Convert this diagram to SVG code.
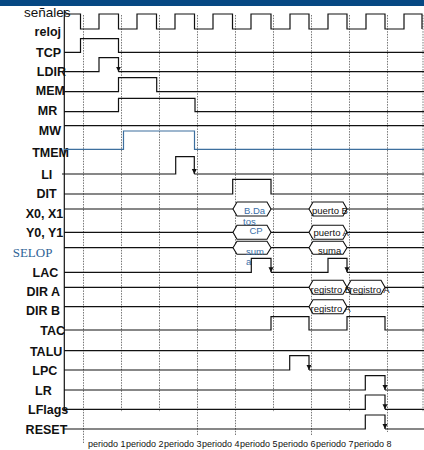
<svg xmlns="http://www.w3.org/2000/svg" width="424" height="450" viewBox="0 0 424 450">
<defs>
<marker id="arr" viewBox="0 0 6 6" refX="6" refY="3" markerWidth="5" markerHeight="6" markerUnits="userSpaceOnUse" orient="auto"><path d="M0,0 L6,3 L0,6 z" fill="#111"/></marker>
<style>
.lbl{font-family:"Liberation Sans",Arial,sans-serif;font-weight:bold;font-size:12.5px;fill:#111;text-anchor:end}
.w{fill:none;stroke:#111;stroke-width:1.2}
.wa{fill:none;stroke:#111;stroke-width:1.2;marker-end:url(#arr)}
.tm{fill:none;stroke:#3d6f9e;stroke-width:1.2}
.grid{stroke:#555;stroke-width:0.8;stroke-dasharray:1.5,1.2}
.hex{fill:#fff;stroke:#111;stroke-width:1.1}
.ht{font-family:"Liberation Sans",Arial,sans-serif;font-size:9.5px;fill:#111}
.hb{font-family:"Liberation Sans",Arial,sans-serif;font-size:9.5px;fill:#3a6fa8}
.per{font-family:"Liberation Sans",Arial,sans-serif;font-size:9px;fill:#111}
</style>
</defs>
<rect x="0" y="0" width="424" height="6" fill="#064883"/>
<g id="grid">
<line class="grid" x1="83.5" y1="15" x2="83.5" y2="443"/>
<line class="grid" x1="121.5" y1="15" x2="121.5" y2="412"/>
<line class="grid" x1="159.5" y1="15" x2="159.5" y2="412"/>
<line class="grid" x1="197.5" y1="15" x2="197.5" y2="435"/>
<line class="grid" x1="235.5" y1="15" x2="235.5" y2="435"/>
<line class="grid" x1="273.5" y1="15" x2="273.5" y2="412"/>
<line class="grid" x1="311.5" y1="15" x2="311.5" y2="435"/>
<line class="grid" x1="349.5" y1="15" x2="349.5" y2="412"/>
<line class="grid" x1="387.5" y1="15" x2="387.5" y2="432"/>
<line class="grid" x1="423" y1="15" x2="423" y2="412"/>
</g>
<g id="axis"><line x1="64.3" y1="10" x2="64.3" y2="410" stroke="#111" stroke-width="1.2"/></g>
<text x="24" y="16.5" font-family="Liberation Sans, Arial, sans-serif" font-size="13.5" fill="#111">señales</text>
<g id="reloj"><text class="lbl" x="61" y="36">reloj</text>
<path class="w" d="M64,14 H80.5 V29 H99 V14 H118.5 V29 H137 V14 H156.5 V29 H175 V14 H194.5 V29 H213 V14 H232.5 V29 H251 V14 H271 V29 H290 V14 H309 V29 H328 V14 H347 V29 H366 V14 H385 V29 H404 V14 H422 V29"/></g>
<g id="TCP"><text class="lbl" x="61" y="56.5">TCP</text>
<path class="w" d="M64,52.3 H80.5 V38.7 H118.5 V52.3 H424"/></g>
<g id="LDIR"><text class="lbl" x="66" y="75.5">LDIR</text>
<path class="wa" d="M64,71.7 H99 V57.7 H118.5 V71.7"/><path class="w" d="M118.5,71.7 H424"/></g>
<g id="MEM"><text class="lbl" x="65" y="95">MEM</text>
<path class="w" d="M64,91.7 H118.5 V77.7 H156.7 V91.7 H424"/></g>
<g id="MR"><text class="lbl" x="57.3" y="115">MR</text>
<path class="w" d="M64,111.7 H118.5 V98.3 H195 V111.7 H424"/></g>
<g id="MW"><text class="lbl" x="61" y="135">MW</text>
<path class="w" d="M64,125.7 H424"/></g>
<g id="TMEM"><text class="lbl" x="69" y="157">TMEM</text>
<path class="tm" d="M64,149.3 H123.5 V131 H194.5 V149.3 H424"/></g>
<g id="LI"><text class="lbl" x="52.3" y="179">LI</text>
<path class="wa" d="M62,174 H175.7 V156.7 H194.3 V174"/><path class="w" d="M194.3,174 H424"/></g>
<g id="DIT"><text class="lbl" x="56.7" y="197.5">DIT</text>
<path class="w" d="M64,194 H232.7 V179.3 H271 V194 H424"/></g>
<g id="X0X1"><text class="lbl" x="63.3" y="218">X0, X1</text>
<path class="w" d="M64,209 H233 M271,209 H309 M347,209 H424"/>
<polygon class="hex" points="233,209 237,202 267,202 271,209 267,216 237,216"/>
<polygon class="hex" points="309,209 313,202 343,202 347,209 343,216 313,216"/>
<text class="hb" x="244" y="214">B.Da</text>
<text class="ht" x="312" y="213.5">puerto B</text></g>
<g id="Y0Y1"><text class="lbl" x="63.3" y="237">Y0, Y1</text>
<path class="w" d="M64,232.3 H233 M271,232.3 H309 M347,232.3 H424"/>
<polygon class="hex" points="233,232.3 237,225.3 267,225.3 271,232.3 267,239.3 237,239.3"/>
<polygon class="hex" points="309,232.3 313,225.3 343,225.3 347,232.3 343,239.3 313,239.3"/>
<text class="hb" x="243" y="224.5" font-size="8.5">tos</text>
<text class="hb" x="249.5" y="234">CP</text>
<text class="ht" x="313.5" y="235.5">puerto A</text></g>
<g id="SELOP"><text x="12.7" y="257" font-family="Liberation Serif, Times New Roman, serif" font-size="13" fill="#2f6496">SELOP</text>
<path class="w" d="M64,247.7 H233 M271,247.7 H309 M347,247.7 H424"/>
<polygon class="hex" points="233,247.7 237,241.2 267,241.2 271,247.7 267,254.2 237,254.2"/>
<polygon class="hex" points="309,247.7 313,241.2 343,241.2 347,247.7 343,254.2 313,254.2"/>
<text class="hb" x="246" y="254.5">sum</text>
<text class="hb" x="246" y="265">a</text>
<text class="ht" x="318" y="254">suma</text></g>
<g id="LAC"><text class="lbl" x="58.3" y="276.5">LAC</text>
<path class="wa" d="M64,272.3 H251.3 V258.3 H271 V272.3"/>
<path class="wa" d="M271,272.3 H328 V258.3 H347 V272.3"/>
<path class="w" d="M347,272.3 H424"/></g>
<g id="DIRA"><text class="lbl" x="60" y="296">DIR A</text>
<path class="w" d="M64,287.3 H309 M385,287.3 H424"/>
<polygon class="hex" points="309,287.3 313,280.3 343,280.3 347,287.3 343,294.3 313,294.3"/>
<polygon class="hex" points="347,287.3 351,280.3 381,280.3 385,287.3 381,294.3 351,294.3"/>
<text class="ht" x="310.5" y="292.5">registro B</text>
<text class="ht" x="349.5" y="292.5">registro A</text></g>
<g id="DIRB"><text class="lbl" x="60" y="315">DIR B</text>
<path class="w" d="M64,306.7 H309 M347,306.7 H424"/>
<polygon class="hex" points="309,306.7 313,299.7 343,299.7 347,306.7 343,313.7 313,313.7"/>
<text class="ht" x="310.5" y="312">registro A</text></g>
<g id="TAC"><text class="lbl" x="65" y="334.5">TAC</text>
<path class="w" d="M64,330 H271 V316.7 H309 V330 H347 V316.7 H385 V330 H424"/></g>
<g id="TALU"><text class="lbl" x="62.3" y="356">TALU</text>
<path class="w" d="M64,350.7 H424"/></g>
<g id="LPC"><text class="lbl" x="57.3" y="375">LPC</text>
<path class="wa" d="M64,370 H289.7 V355.7 H309 V370"/><path class="w" d="M309,370 H424"/></g>
<g id="LR"><text class="lbl" x="51.7" y="395">LR</text>
<path class="wa" d="M64,390 H365.3 V375.7 H385 V390"/><path class="w" d="M385,390 H424"/></g>
<g id="LFlags"><text class="lbl" x="68.3" y="413.5">LFlags</text>
<path class="wa" d="M64,409.3 H365.3 V395 H385 V409.3"/><path class="w" d="M385,409.3 H424"/></g>
<g id="RESET"><text class="lbl" x="67.3" y="433.5">RESET</text>
<path class="wa" d="M64,429 H365.3 V415 H385 V429"/><path class="w" d="M385,429 H424"/></g>
<g id="periodos">
<text class="per" x="88" y="447" textLength="37.5" lengthAdjust="spacingAndGlyphs">periodo 1</text>
<text class="per" x="126" y="447" textLength="37.5" lengthAdjust="spacingAndGlyphs">periodo 2</text>
<text class="per" x="164" y="447" textLength="37.5" lengthAdjust="spacingAndGlyphs">periodo 3</text>
<text class="per" x="202" y="447" textLength="37.5" lengthAdjust="spacingAndGlyphs">periodo 4</text>
<text class="per" x="240" y="447" textLength="37.5" lengthAdjust="spacingAndGlyphs">periodo 5</text>
<text class="per" x="278" y="447" textLength="37.5" lengthAdjust="spacingAndGlyphs">periodo 6</text>
<text class="per" x="316" y="447" textLength="37.5" lengthAdjust="spacingAndGlyphs">periodo 7</text>
<text class="per" x="354" y="447" textLength="37.5" lengthAdjust="spacingAndGlyphs">periodo 8</text>
</g>
</svg>
